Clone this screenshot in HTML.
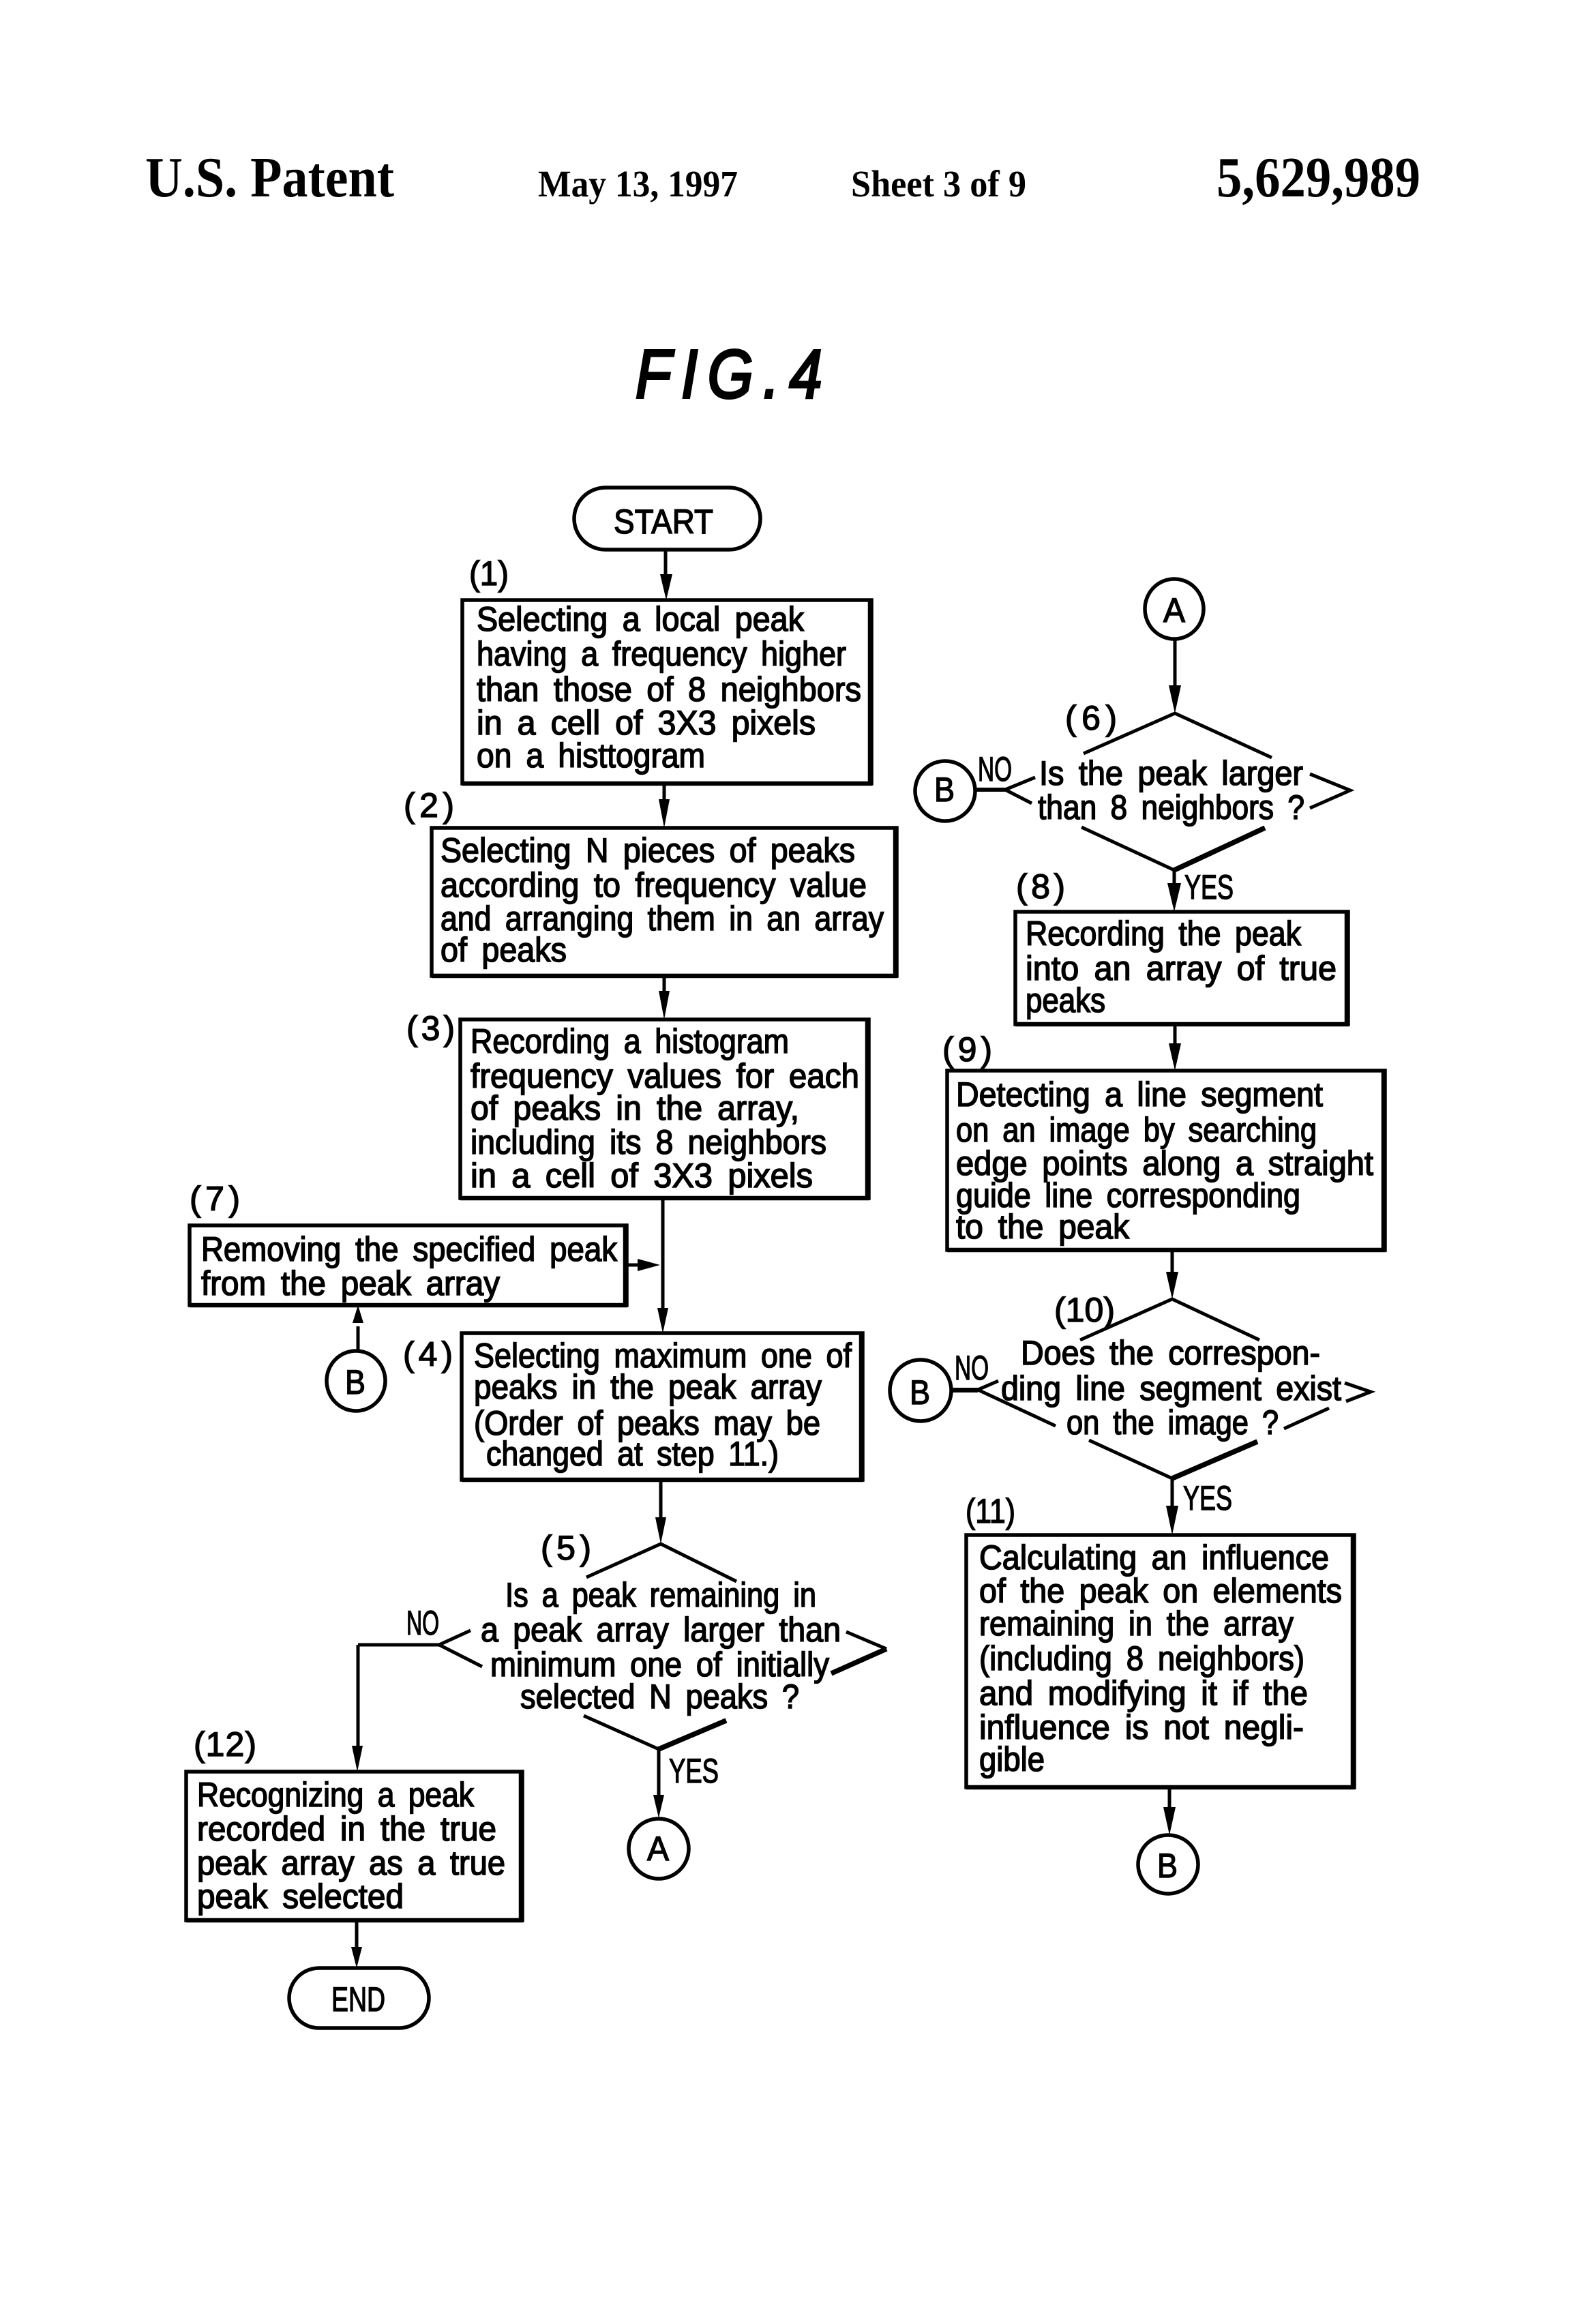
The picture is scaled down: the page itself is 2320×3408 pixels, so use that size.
<!DOCTYPE html>
<html><head><meta charset="utf-8"><style>
html,body{margin:0;padding:0;background:#fff}
svg{display:block}
.t{font-family:"Liberation Sans",sans-serif;font-size:50px;word-spacing:9px;fill:#000;stroke:#000;stroke-width:1.6}
.n{font-family:"Liberation Sans",sans-serif;font-size:50px;fill:#000;stroke:#000;stroke-width:1.4}
.h{font-family:"Liberation Serif",serif;font-weight:bold;fill:#000}
.b{fill:#fff;stroke:#000;stroke-width:5.5}
.k{fill:none;stroke:#000;stroke-width:6.5}
.l{fill:none;stroke:#000;stroke-width:5}
.w{fill:none;stroke:#000;stroke-width:7.5}
</style></head><body>
<svg width="2320" height="3408" viewBox="0 0 2320 3408" xmlns="http://www.w3.org/2000/svg">
<rect width="2320" height="3408" fill="#fff"/>
<!-- header -->
<text class="h" x="213" y="288" font-size="84" textLength="365" lengthAdjust="spacingAndGlyphs">U.S. Patent</text>
<text class="h" x="789" y="288" font-size="55" textLength="293" lengthAdjust="spacingAndGlyphs">May 13, 1997</text>
<text class="h" x="1248" y="288" font-size="55" textLength="257" lengthAdjust="spacingAndGlyphs">Sheet 3 of 9</text>
<text class="h" x="1784" y="288" font-size="84" textLength="299" lengthAdjust="spacingAndGlyphs">5,629,989</text>
<text transform="translate(932 583) scale(.86 1)" font-family="'Liberation Sans',sans-serif" font-style="italic" font-size="100" stroke="#000" stroke-width="4" textLength="318" lengthAdjust="spacing">FIG.4</text>

<!-- connectors -->
<path class="l" d="M976 806V850M974 1149V1190M974 1431V1470M972 1757V1925M969 2170V2235M525 1985V1945M525 2412H644M525 2412V2570M966 2565V2640M523 2816V2860M1723 937V1015M1722 1276V1305M1723 1502V1540M1719 1833V1875M1719 2168V2220M1715 2621V2660M920 1855H950"/>
<g fill="#000">
<polygon points="968,842 986,842 977,880"/>
<polygon points="966,1172 982,1172 974,1214"/>
<polygon points="966,1453 982,1453 974,1495"/>
<polygon points="964,1918 980,1918 972,1955"/>
<polygon points="961,2225 977,2225 969,2264"/>
<polygon points="517,1940 533,1940 525,1914"/>
<polygon points="516,2560 532,2560 524,2598"/>
<polygon points="958,2632 974,2632 966,2666"/>
<polygon points="515,2855 531,2855 523,2886"/>
<polygon points="1714,1005 1732,1005 1723,1046"/>
<polygon points="1712,1295 1732,1295 1722,1337"/>
<polygon points="1714,1530 1732,1530 1723,1570"/>
<polygon points="1710,1865 1728,1865 1719,1905"/>
<polygon points="1710,2208 1728,2208 1719,2251"/>
<polygon points="1706,2650 1724,2650 1715,2691"/>
<polygon points="935,1846 935,1864 968,1855"/>
<path d="M1430 1155H1474V1161H1430ZM1395 2035H1434V2042H1395Z"/>
</g>

<!-- terminals -->
<rect class="b" x="842" y="715" width="273" height="91" rx="46"/>
<text class="n" x="900" y="782" font-size="56" textLength="146" lengthAdjust="spacingAndGlyphs">START</text>
<rect class="b" x="424" y="2886" width="205" height="88" rx="44"/>
<text class="n" x="486" y="2949" font-size="56" textLength="79" lengthAdjust="spacingAndGlyphs">END</text>

<!-- boxes -->
<rect class="b" x="678" y="880" width="600" height="269"/>
<path class="k" d="M1276 880V1149H678"/>
<rect class="b" x="633" y="1214" width="682" height="217"/>
<path class="k" d="M1313 1214V1431H633"/>
<rect class="b" x="675" y="1495" width="599" height="262"/>
<path class="k" d="M1272 1495V1757H675"/>
<rect class="b" x="278" y="1797" width="641" height="117"/>
<path class="k" d="M917 1797V1914H278"/>
<rect class="b" x="677" y="1955" width="588" height="215"/>
<path class="k" d="M1263 1955V2170H677"/>
<rect class="b" x="273" y="2598" width="493" height="218"/>
<path class="k" d="M764 2598V2816H273"/>
<rect class="b" x="1489" y="1337" width="488" height="165"/>
<path class="k" d="M1975 1337V1502H1489"/>
<rect class="b" x="1389" y="1570" width="642" height="263"/>
<path class="k" d="M2029 1570V1833H1389"/>
<rect class="b" x="1417" y="2251" width="569" height="370"/>
<path class="k" d="M1984 2251V2621H1417"/>

<!-- diamonds -->
<path class="l" d="M860 2313L969 2264L1080 2319M690 2391L644 2412L707 2444M1241 2393L1300 2418M856 2516L966 2565"/>
<path class="w" d="M1300 2418L1219 2454M1065 2523L966 2565"/>
<path class="l" d="M1589 1105L1723 1046L1865 1111M1518 1140L1474 1158L1513 1178M1921 1135L1980 1159L1921 1185M1586 1213L1722 1276"/>
<path class="w" d="M1855 1214L1722 1276"/>
<path class="l" d="M1584 1965L1719 1905L1847 1965M1464 2025L1434 2038L1548 2091M1972 2028L2010 2041L1974 2055M1949 2065L1883 2095M1597 2112L1719 2168"/>
<path class="w" d="M1844 2114L1719 2168"/>

<!-- circles -->
<ellipse class="b" cx="522" cy="2025" rx="43" ry="44"/>
<ellipse class="b" cx="966" cy="2711" rx="44" ry="44"/>
<ellipse class="b" cx="1722" cy="893" rx="43" ry="44"/>
<ellipse class="b" cx="1386" cy="1160" rx="44" ry="44"/>
<ellipse class="b" cx="1350" cy="2039" rx="45" ry="45"/>
<ellipse class="b" cx="1713" cy="2734" rx="44" ry="43"/>
<text class="n" x="506" y="2044" textLength="30" lengthAdjust="spacingAndGlyphs">B</text>
<text class="n" x="949" y="2728" textLength="32" lengthAdjust="spacingAndGlyphs">A</text>
<text class="n" x="1706" y="912" textLength="32" lengthAdjust="spacingAndGlyphs">A</text>
<text class="n" x="1370" y="1175" textLength="30" lengthAdjust="spacingAndGlyphs">B</text>
<text class="n" x="1334" y="2059" textLength="30" lengthAdjust="spacingAndGlyphs">B</text>
<text class="n" x="1697" y="2753" textLength="30" lengthAdjust="spacingAndGlyphs">B</text>

<!-- step labels -->
<text class="n" x="688" y="858" textLength="58" lengthAdjust="spacingAndGlyphs">(1)</text>
<text class="n" x="592" y="1198" textLength="74" lengthAdjust="spacing">(2)</text>
<text class="n" x="596" y="1525" textLength="71" lengthAdjust="spacing">(3)</text>
<text class="n" x="591" y="2003" textLength="73" lengthAdjust="spacing">(4)</text>
<text class="n" x="793" y="2287" textLength="74" lengthAdjust="spacing">(5)</text>
<text class="n" x="1562" y="1070" textLength="76" lengthAdjust="spacing">(6)</text>
<text class="n" x="278" y="1775" textLength="74" lengthAdjust="spacing">(7)</text>
<text class="n" x="1490" y="1317" textLength="72" lengthAdjust="spacing">(8)</text>
<text class="n" x="1382" y="1556" textLength="73" lengthAdjust="spacing">(9)</text>
<text class="n" x="1546" y="1938" textLength="89" lengthAdjust="spacing">(10)</text>
<text class="n" x="1416" y="2233" textLength="73" lengthAdjust="spacingAndGlyphs">(11)</text>
<text class="n" x="284" y="2575" textLength="92" lengthAdjust="spacing">(12)</text>

<!-- yes/no -->
<text class="n" x="596" y="2397" textLength="48" lengthAdjust="spacingAndGlyphs">NO</text>
<text class="n" x="981" y="2614" textLength="73" lengthAdjust="spacingAndGlyphs">YES</text>
<text class="n" x="1434" y="1145" textLength="50" lengthAdjust="spacingAndGlyphs">NO</text>
<text class="n" x="1737" y="1318" textLength="72" lengthAdjust="spacingAndGlyphs">YES</text>
<text class="n" x="1400" y="2023" textLength="50" lengthAdjust="spacingAndGlyphs">NO</text>
<text class="n" x="1735" y="2214" textLength="72" lengthAdjust="spacingAndGlyphs">YES</text>

<!-- box 1 -->
<text class="t" x="699" y="925" textLength="480" lengthAdjust="spacingAndGlyphs">Selecting a local peak</text>
<text class="t" x="699" y="976" textLength="542" lengthAdjust="spacingAndGlyphs">having a frequency higher</text>
<text class="t" x="699" y="1028" textLength="564" lengthAdjust="spacingAndGlyphs">than those of 8 neighbors</text>
<text class="t" x="699" y="1077" textLength="497" lengthAdjust="spacingAndGlyphs">in a cell of 3X3 pixels</text>
<text class="t" x="699" y="1125" textLength="335" lengthAdjust="spacingAndGlyphs">on a histtogram</text>
<!-- box 2 -->
<text class="t" x="646" y="1264" textLength="608" lengthAdjust="spacingAndGlyphs">Selecting N pieces of peaks</text>
<text class="t" x="646" y="1315" textLength="625" lengthAdjust="spacingAndGlyphs">according to frequency value</text>
<text class="t" x="646" y="1364" textLength="650" lengthAdjust="spacingAndGlyphs">and arranging them in an array</text>
<text class="t" x="646" y="1410" textLength="185" lengthAdjust="spacingAndGlyphs">of peaks</text>
<!-- box 3 -->
<text class="t" x="690" y="1544" textLength="467" lengthAdjust="spacingAndGlyphs">Recording a histogram</text>
<text class="t" x="690" y="1595" textLength="570" lengthAdjust="spacingAndGlyphs">frequency values for each</text>
<text class="t" x="690" y="1642" textLength="482" lengthAdjust="spacingAndGlyphs">of peaks in the array,</text>
<text class="t" x="690" y="1692" textLength="522" lengthAdjust="spacingAndGlyphs">including its 8 neighbors</text>
<text class="t" x="690" y="1741" textLength="502" lengthAdjust="spacingAndGlyphs">in a cell of 3X3 pixels</text>
<!-- box 7 -->
<text class="t" x="295" y="1849" textLength="610" lengthAdjust="spacingAndGlyphs">Removing the specified peak</text>
<text class="t" x="295" y="1899" textLength="438" lengthAdjust="spacingAndGlyphs">from the peak array</text>
<!-- box 4 -->
<text class="t" x="695" y="2005" textLength="554" lengthAdjust="spacingAndGlyphs">Selecting maximum one of</text>
<text class="t" x="695" y="2051" textLength="510" lengthAdjust="spacingAndGlyphs">peaks in the peak array</text>
<text class="t" x="695" y="2104" textLength="508" lengthAdjust="spacingAndGlyphs">(Order of peaks may be</text>
<text class="t" x="713" y="2149" textLength="429" lengthAdjust="spacingAndGlyphs">changed at step 11.)</text>
<!-- diamond 5 -->
<text class="t" x="741" y="2356" textLength="456" lengthAdjust="spacingAndGlyphs">Is a peak remaining in</text>
<text class="t" x="705" y="2407" textLength="528" lengthAdjust="spacingAndGlyphs">a peak array larger than</text>
<text class="t" x="719" y="2458" textLength="497" lengthAdjust="spacingAndGlyphs">minimum one of initially</text>
<text class="t" x="763" y="2505" textLength="409" lengthAdjust="spacingAndGlyphs">selected N peaks ?</text>
<!-- box 12 -->
<text class="t" x="289" y="2649" textLength="406" lengthAdjust="spacingAndGlyphs">Recognizing a peak</text>
<text class="t" x="289" y="2699" textLength="439" lengthAdjust="spacingAndGlyphs">recorded in the true</text>
<text class="t" x="289" y="2749" textLength="452" lengthAdjust="spacingAndGlyphs">peak array as a true</text>
<text class="t" x="289" y="2798" textLength="303" lengthAdjust="spacingAndGlyphs">peak selected</text>
<!-- diamond 6 -->
<text class="t" x="1524" y="1151" textLength="387" lengthAdjust="spacingAndGlyphs">Is the peak larger</text>
<text class="t" x="1522" y="1201" textLength="391" lengthAdjust="spacingAndGlyphs">than 8 neighbors ?</text>
<!-- box 8 -->
<text class="t" x="1504" y="1386" textLength="404" lengthAdjust="spacingAndGlyphs">Recording the peak</text>
<text class="t" x="1504" y="1437" textLength="456" lengthAdjust="spacingAndGlyphs">into an array of true</text>
<text class="t" x="1504" y="1484" textLength="117" lengthAdjust="spacingAndGlyphs">peaks</text>
<!-- box 9 -->
<text class="t" x="1402" y="1622" textLength="538" lengthAdjust="spacingAndGlyphs">Detecting a line segment</text>
<text class="t" x="1402" y="1674" textLength="529" lengthAdjust="spacingAndGlyphs">on an image by searching</text>
<text class="t" x="1402" y="1723" textLength="612" lengthAdjust="spacingAndGlyphs">edge points along a straight</text>
<text class="t" x="1402" y="1770" textLength="505" lengthAdjust="spacingAndGlyphs">guide line corresponding</text>
<text class="t" x="1402" y="1816" textLength="254" lengthAdjust="spacingAndGlyphs">to the peak</text>
<!-- diamond 10 -->
<text class="t" x="1497" y="2001" textLength="439" lengthAdjust="spacingAndGlyphs">Does the correspon-</text>
<text class="t" x="1468" y="2053" textLength="499" lengthAdjust="spacingAndGlyphs">ding line segment exist</text>
<text class="t" x="1564" y="2103" textLength="311" lengthAdjust="spacingAndGlyphs">on the image ?</text>
<!-- box 11 -->
<text class="t" x="1436" y="2301" textLength="513" lengthAdjust="spacingAndGlyphs">Calculating an influence</text>
<text class="t" x="1436" y="2350" textLength="532" lengthAdjust="spacingAndGlyphs">of the peak on elements</text>
<text class="t" x="1436" y="2398" textLength="461" lengthAdjust="spacingAndGlyphs">remaining in the array</text>
<text class="t" x="1436" y="2449" textLength="477" lengthAdjust="spacingAndGlyphs">(including 8 neighbors)</text>
<text class="t" x="1436" y="2500" textLength="482" lengthAdjust="spacingAndGlyphs">and modifying it if the</text>
<text class="t" x="1436" y="2550" textLength="476" lengthAdjust="spacingAndGlyphs">influence is not negli-</text>
<text class="t" x="1436" y="2597" textLength="96" lengthAdjust="spacingAndGlyphs">gible</text>
</svg>
</body></html>
